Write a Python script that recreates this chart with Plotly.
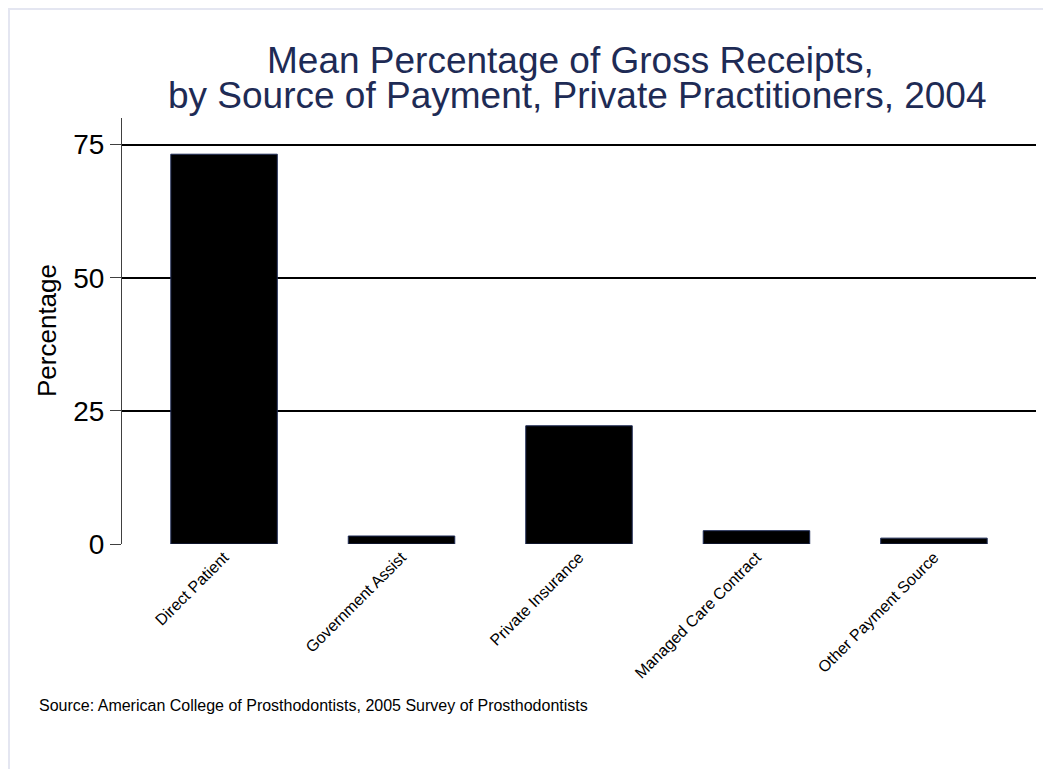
import plotly.graph_objects as go

categories = ["Direct Patient", "Government Assist", "Private Insurance",
              "Managed Care Contract", "Other Payment Source"]
values = [73.2, 1.5, 22.2, 2.5, 1.1]
y_ticks = [0, 25, 50, 75]

title_line1 = "Mean Percentage of Gross Receipts,"
title_line2 = "by Source of Payment, Private Practitioners, 2004"
y_title = "Percentage"
source_note = "Source: American College of Prosthodontists, 2005 Survey of Prosthodontists"

FONT = "Liberation Sans, Arial, sans-serif"
NAVY = "#1e2b55"

OFF = 8  # page margin offset of the figure in the browser
W, H = 1051 - OFF, 769 - OFF
L = 122 - OFF
T = 118 - OFF
PLOT_RIGHT = 1036 - OFF
PLOT_BOTTOM = 544 - OFF
R = W - PLOT_RIGHT
B = H - PLOT_BOTTOM
PW = PLOT_RIGHT - L
PH = PLOT_BOTTOM - T


def px_x(x):
    # screen pixel -> paper coordinate
    return (x - OFF - L) / PW


def px_y(y):
    return (PLOT_BOTTOM - (y - OFF)) / PH


fig = go.Figure()
fig.add_trace(go.Bar(
    x=categories, y=values, width=0.6,
    marker=dict(color="black", line=dict(color=NAVY, width=1)),
    hoverinfo="x+y",
))

fig.update_layout(
    width=W, height=H,
    margin=dict(l=L, r=R, t=T, b=B),
    paper_bgcolor="white", plot_bgcolor="white",
    font=dict(family=FONT, color="black"),
    showlegend=False,
    xaxis=dict(
        range=[-0.575, len(categories) - 1 + 0.575],
        tickangle=-45, tickfont=dict(size=16, color="black"),
        showgrid=False, zeroline=False, showline=False, ticks="",
    ),
    yaxis=dict(
        range=[0, 80], tickvals=y_ticks,
        tickfont=dict(size=28, color="black"),
        showgrid=True, gridcolor="black", gridwidth=2,
        zeroline=False, showline=True, linecolor="#404040", linewidth=1,
        ticks="outside", ticklen=11, tickcolor="#404040", tickwidth=1,
    ),
    annotations=[
        dict(text=title_line1, x=px_x(570), y=px_y(61), xref="paper", yref="paper",
             xanchor="center", yanchor="middle", showarrow=False,
             font=dict(size=37, color=NAVY, family=FONT)),
        dict(text=title_line2, x=px_x(577), y=px_y(96), xref="paper", yref="paper",
             xanchor="center", yanchor="middle", showarrow=False,
             font=dict(size=37, color=NAVY, family=FONT)),
        dict(text=y_title, x=px_x(47), y=0.5, xref="paper", yref="paper",
             xanchor="center", yanchor="middle", textangle=-90, showarrow=False,
             font=dict(size=26, color="black", family=FONT)),
        dict(text=source_note, x=px_x(37), y=px_y(705), xref="paper", yref="paper",
             xanchor="left", yanchor="middle", showarrow=False,
             font=dict(size=16, color="black", family=FONT)),
    ],
    shapes=[
        dict(type="line", xref="paper", yref="paper",
             x0=px_x(OFF), x1=px_x(1051), y0=px_y(OFF + 1), y1=px_y(OFF + 1),
             line=dict(color="#e4e6f1", width=2)),
        dict(type="line", xref="paper", yref="paper",
             x0=px_x(OFF + 1), x1=px_x(OFF + 1), y0=px_y(OFF), y1=px_y(769),
             line=dict(color="#e4e6f1", width=2)),
    ],
)

fig.write_html("out.html")
